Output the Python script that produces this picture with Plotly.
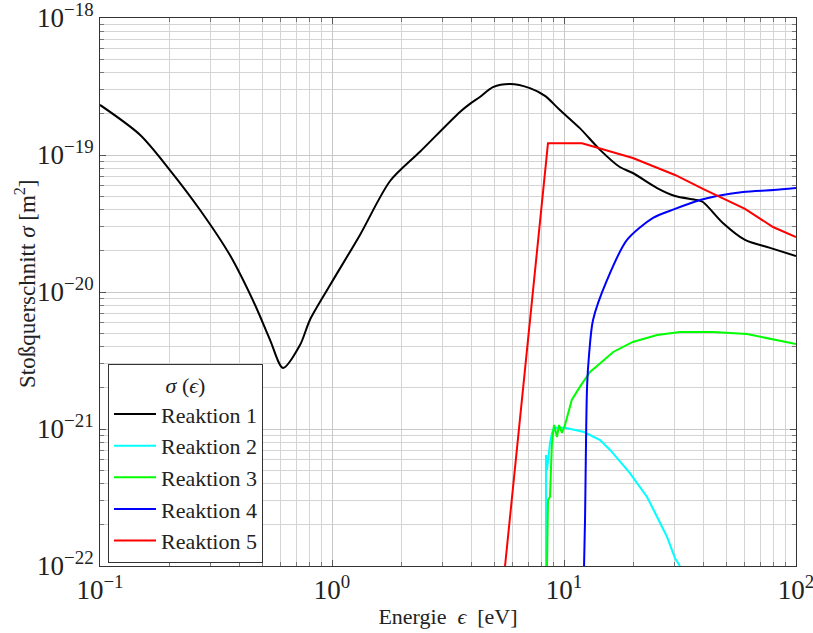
import plotly.graph_objects as go

# Reaktion 1
e1 = [0.1, 0.149, 0.200, 0.270, 0.363, 0.466, 0.541, 0.615, 0.728, 0.803, 0.98, 1.32, 1.78, 2.40, 3.56, 3.93, 4.34, 4.94, 5.85, 7.13, 8.28, 9.6, 11.7, 14.3, 17.4, 19.8, 25.2, 30.1, 37.4, 39.7, 48.4, 60.3, 77.3, 100]
s1 = [2.32e-19, 1.40e-19, 7.77e-20, 3.97e-20, 1.86e-20, 8.04e-21, 4.46e-21, 2.79e-21, 4.10e-21, 6.25e-21, 1.12e-20, 2.61e-20, 6.46e-20, 1.06e-19, 2.06e-19, 2.36e-19, 2.65e-19, 3.13e-19, 3.30e-19, 3.08e-19, 2.70e-19, 2.13e-19, 1.57e-19, 1.09e-19, 8.17e-20, 7.39e-20, 5.74e-20, 5.02e-20, 4.69e-20, 4.54e-20, 3.19e-20, 2.40e-20, 2.10e-20, 1.83e-20]

# Reaktion 2
e2 = [8.36, 8.36, 8.45, 8.70, 8.87, 9.06, 10.1, 12.2, 14.3, 15.8, 19.2, 22.8, 25.2, 27.8, 30.1, 31.6]
s2 = [1.0e-22, 6.46e-22, 5.02e-22, 7.9e-22, 9.35e-22, 1.02e-21, 1.02e-21, 9.5e-22, 8.31e-22, 7.03e-22, 4.78e-22, 3.19e-22, 2.28e-22, 1.63e-22, 1.14e-22, 1.0e-22]

# Reaktion 3
e3 = [8.45, 8.53, 8.70, 8.87, 9.06, 9.24, 9.33, 9.52, 9.80, 10.1, 10.8, 11.7, 12.95, 16.3, 19.8, 25.2, 31.6, 43.9, 61.5, 100]
s3 = [1.0e-22, 3.03e-22, 3.19e-22, 7.9e-22, 1.07e-21, 9.35e-22, 8.75e-22, 1.07e-21, 9.35e-22, 1.07e-21, 1.63e-21, 2.03e-21, 2.61e-21, 3.65e-21, 4.32e-21, 4.86e-21, 5.11e-21, 5.11e-21, 4.93e-21, 4.17e-21]

# Reaktion 4
e4 = [12.2, 12.32, 12.57, 12.82, 13.34, 15.32, 18.69, 24.2, 30.1, 38.6, 45.6, 59.1, 79.6, 100]
s4 = [1.0e-22, 2.17e-22, 2.03e-21, 3.47e-21, 6.25e-21, 1.22e-20, 2.40e-20, 3.47e-20, 4.04e-20, 4.69e-20, 5.02e-20, 5.37e-20, 5.55e-20, 5.74e-20]

# Reaktion 5
e5 = [5.57, 8.53, 11.96, 19.8, 30.1, 39.7, 60.3, 79.6, 100]
s5 = [1.0e-22, 1.22e-19, 1.22e-19, 9.51e-20, 7.15e-20, 5.65e-20, 4.04e-20, 2.98e-20, 2.52e-20]

names = ["Reaktion 1", "Reaktion 2", "Reaktion 3", "Reaktion 4", "Reaktion 5"]
colors = ["#000000", "#00ffff", "#00ff00", "#0000ff", "#ff0000"]
shapes = ["spline", "linear", "linear", "spline", "linear"]
xs = [e1, e2, e3, e4, e5]
ys = [s1, s2, s3, s4, s5]

x_tickvals = [0.1, 1, 10, 100]
x_ticktext = ["10<sup>−1</sup>", "10<sup>0</sup>", "10<sup>1</sup>", "10<sup>2</sup>"]
y_tickvals = [1e-22, 1e-21, 1e-20, 1e-19, 1e-18]
y_ticktext = ["10<sup>−22</sup>", "10<sup>−21</sup>", "10<sup>−20</sup>", "10<sup>−19</sup>", "10<sup>−18</sup>"]

x_title = "Energie\u00a0\u00a0<i>ϵ</i>\u00a0\u00a0[eV]"
y_title = "Stoßquerschnitt <i>σ</i>\u00a0[m<sup>2</sup>]"

font = "'Liberation Serif', 'Times New Roman', Tinos, 'DejaVu Serif', serif"

fig = go.Figure()
for x, y, n, c, sh in zip(xs, ys, names, colors, shapes):
    fig.add_trace(go.Scatter(x=x, y=y, mode="lines", name=n,
                             line=dict(color=c, width=2, shape=sh, smoothing=0.8 if sh == "spline" else None)))

axis_common = dict(
    type="log", showline=True, linecolor="#333333", linewidth=1, mirror="allticks",
    ticks="inside", ticklen=6, tickcolor="#555555",
    showgrid=True, gridcolor="#c8c8c8", gridwidth=1,
    zeroline=False, automargin=False, ticklabeloverflow="allow",
    tickfont=dict(family=font, size=27, color="#222222"),
    minor=dict(dtick="D1", showgrid=True, gridcolor="#d4d4d4", gridwidth=1,
               ticks="inside", ticklen=4, tickcolor="#777777"),
)

fig.update_xaxes(range=[-1, 2], tickmode="array", tickvals=x_tickvals, ticktext=x_ticktext,
                 title=dict(text=x_title, font=dict(family=font, size=22, color="#222222"), standoff=4),
                 **axis_common)
fig.update_yaxes(range=[-22, -18], tickmode="array", tickvals=y_tickvals, ticktext=y_ticktext,
                 **axis_common)

fig.add_annotation(text=y_title, xref="paper", yref="paper",
                   x=-0.1063, y=0.5146, xanchor="center", yanchor="middle",
                   textangle=-90, showarrow=False,
                   font=dict(family=font, size=23, color="#222222"))

fig.update_layout(
    width=813, height=633,
    margin=dict(l=100, r=17, t=18, b=67),
    plot_bgcolor="white", paper_bgcolor="white",
    font=dict(family=font, color="#222222"),
    legend=dict(
        x=0.0115, y=0.006, xanchor="left", yanchor="bottom",
        bgcolor="white", bordercolor="#333333", borderwidth=1,
        font=dict(family=font, size=22, color="#222222"),
        title=dict(text="<i>σ</i> (<i>ϵ</i>)", side="top center", font=dict(family=font, size=22)),
        itemwidth=42, tracegroupgap=0,
    ),
)

fig.write_html("out.html")
